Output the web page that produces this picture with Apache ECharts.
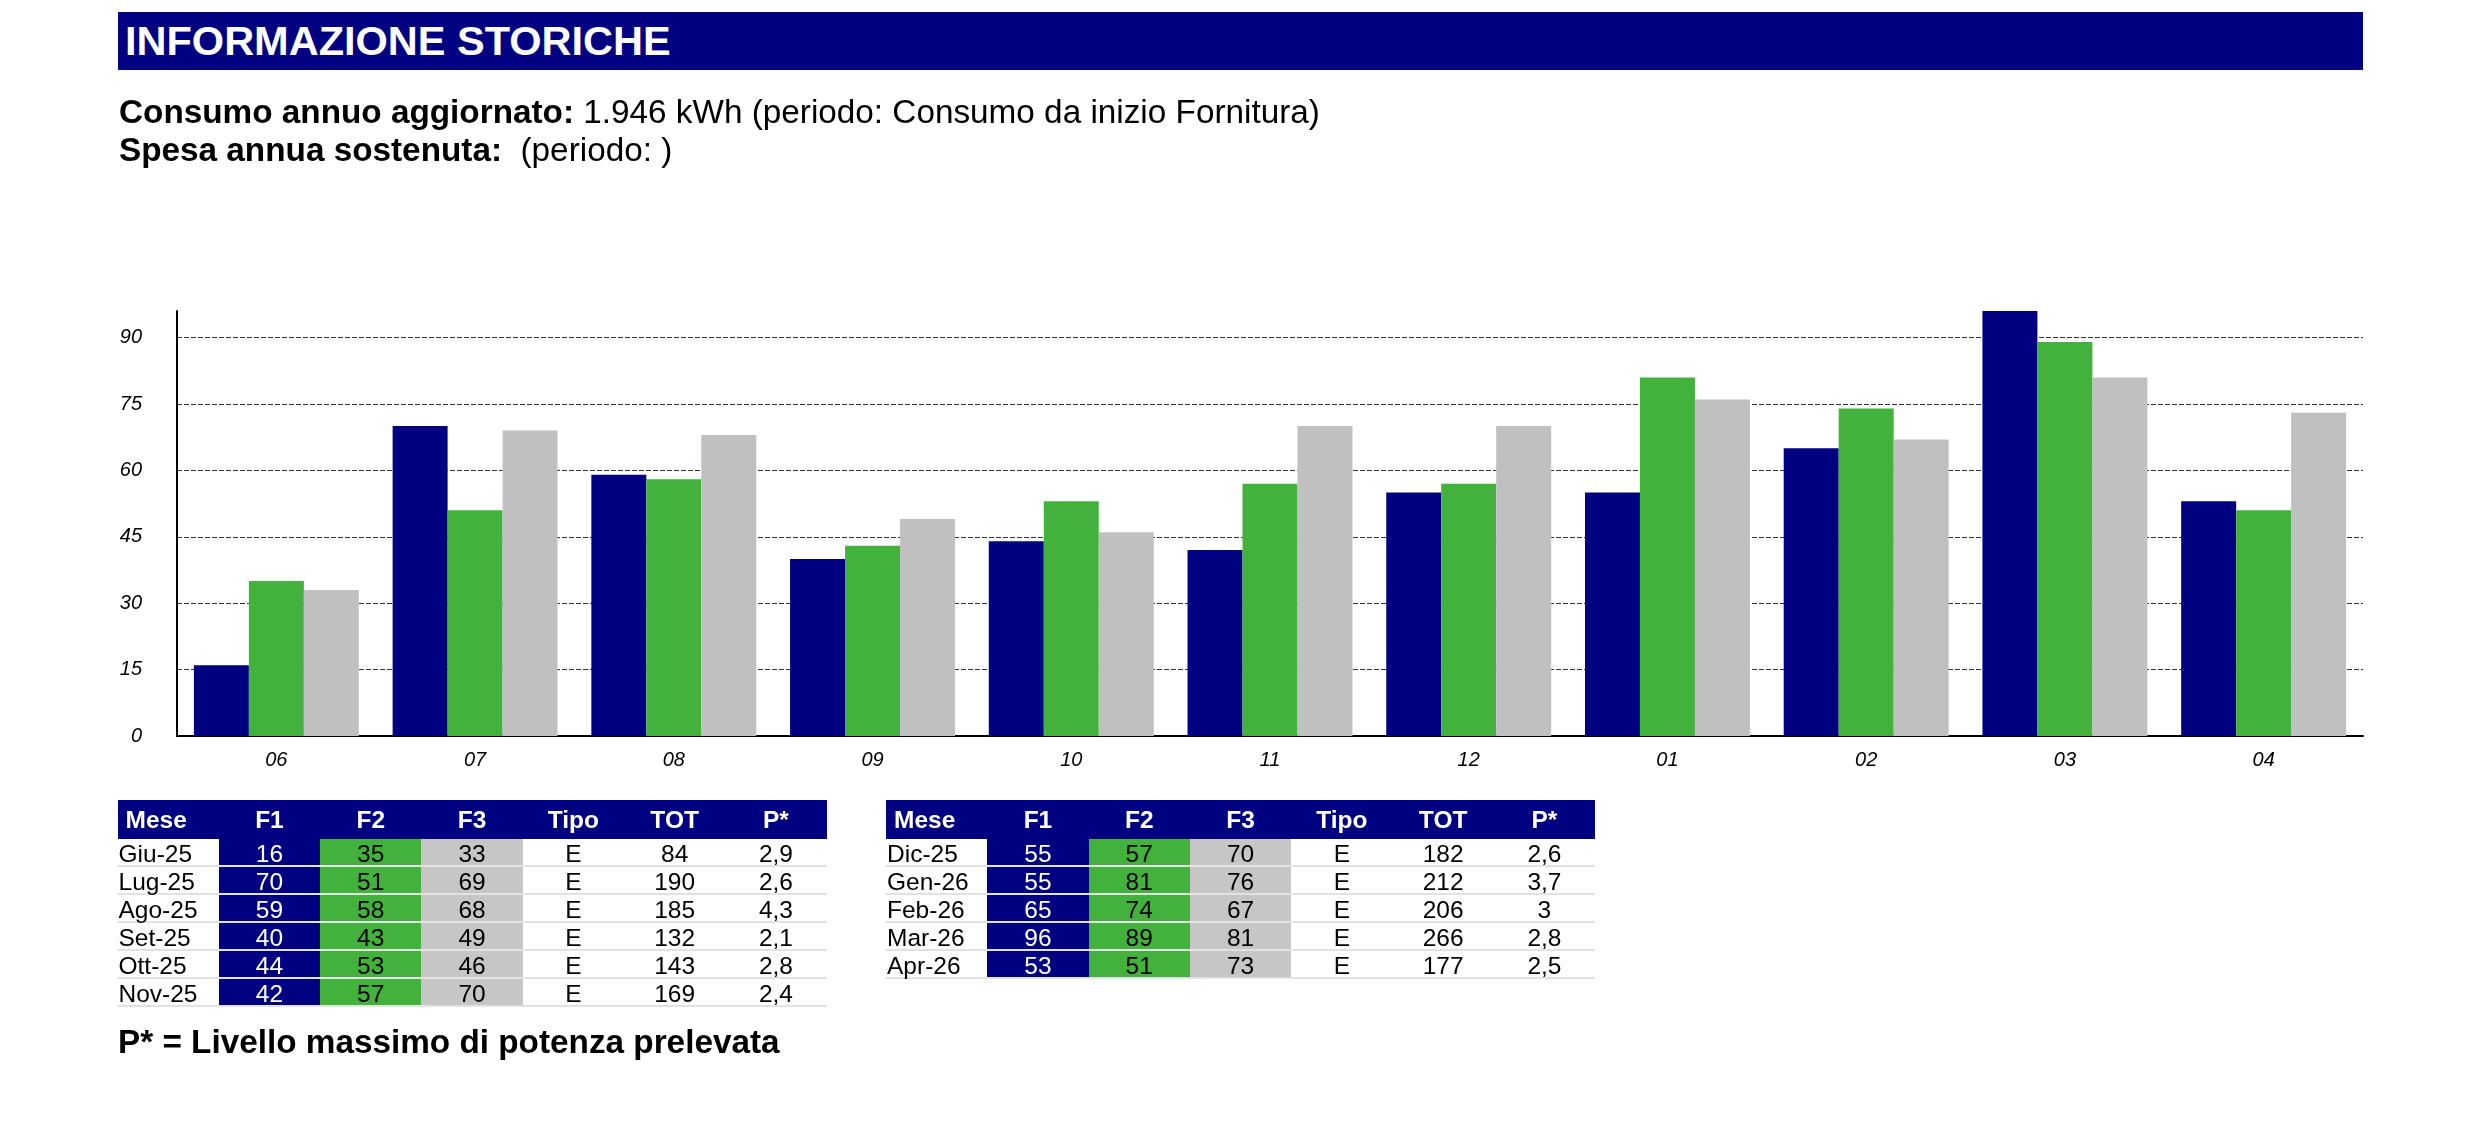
<!DOCTYPE html>
<html>
<head>
<meta charset="utf-8">
<script src="https://cdn.jsdelivr.net/npm/echarts@6/dist/echarts.min.js"></script>
<style>
  html, body { margin: 0; padding: 0; background: #fff; }
  body { width: 2481px; height: 1130px; position: relative; overflow: hidden;
         font-family: "Liberation Sans", Arial, sans-serif; color: #000; }
  #chart { position: absolute; left: 0; top: 0; width: 2481px; height: 1130px; }
  .title { position: absolute; left: 118px; top: 12px; width: 2245px; height: 58px;
           background: #000080; color: #fff; font-weight: bold; font-size: 41.5px;
           line-height: 58px; padding-left: 7px; box-sizing: border-box; }
  .info { position: absolute; left: 119px; top: 93px; font-size: 33.3px; line-height: 38px;
          white-space: pre; }
  .info b { font-weight: bold; }
  .note { position: absolute; left: 118px; top: 1022px; font-size: 33.3px; font-weight: bold;
          line-height: 40px; white-space: pre; }
  .tbl { position: absolute; top: 800px; font-size: 24.5px; }
  .tbl .row { display: flex; height: 26px; line-height: 29px; border-bottom: 2px solid #e2e2e2; }
  .tbl .head { height: 39px; line-height: 39px; background: #000080; color: #fff;
               font-weight: bold; border-bottom: none; }
  .tbl .c { width: 101.3px; text-align: center; flex: none; }
  .tbl .c.m { text-align: left; padding-left: 1px; box-sizing: border-box; }
  .tbl .head .c.m { padding-left: 8px; }
  .tbl .f1 { background: #000080; color: #fff; }
  .tbl .f2 { background: #43b23d; color: #000; }
  .tbl .f3 { background: #c6c6c6; color: #000; }
</style>
</head>
<body>
<div id="chart"></div>
<div class="title">INFORMAZIONE STORICHE</div>
<div class="info"><b>Consumo annuo aggiornato:</b> 1.946 kWh (periodo: Consumo da inizio Fornitura)
<b>Spesa annua sostenuta:</b>  (periodo: )</div>
<div id="t1" class="tbl" style="left:117.5px"></div>
<div id="t2" class="tbl" style="left:886px"></div>
<div class="note">P* = Livello massimo di potenza prelevata</div>
<script>
const months = ['06', '07', '08', '09', '10', '11', '12', '01', '02', '03', '04'];
const mese = ['Giu-25', 'Lug-25', 'Ago-25', 'Set-25', 'Ott-25', 'Nov-25',
              'Dic-25', 'Gen-26', 'Feb-26', 'Mar-26', 'Apr-26'];
const f1 = [16, 70, 59, 40, 44, 42, 55, 55, 65, 96, 53];
const f2 = [35, 51, 58, 43, 53, 57, 57, 81, 74, 89, 51];
const f3 = [33, 69, 68, 49, 46, 70, 70, 76, 67, 81, 73];
const tipo = ['E', 'E', 'E', 'E', 'E', 'E', 'E', 'E', 'E', 'E', 'E'];
const tot = [84, 190, 185, 132, 143, 169, 182, 212, 206, 266, 177];
const pmax = ['2,9', '2,6', '4,3', '2,1', '2,8', '2,4', '2,6', '3,7', '3', '2,8', '2,5'];
const headers = ['Mese', 'F1', 'F2', 'F3', 'Tipo', 'TOT', 'P*'];

const colors = { f1: '#000080', f2: '#43b23d', f3: '#c0c0c0' };

function buildTable(el, from, to) {
  let html = '<div class="row head">' +
    headers.map((h, i) => `<div class="c${i === 0 ? ' m' : ''}">${h}</div>`).join('') + '</div>';
  for (let i = from; i < to; i++) {
    html += '<div class="row">' +
      `<div class="c m">${mese[i]}</div>` +
      `<div class="c f1">${f1[i]}</div>` +
      `<div class="c f2">${f2[i]}</div>` +
      `<div class="c f3">${f3[i]}</div>` +
      `<div class="c">${tipo[i]}</div>` +
      `<div class="c">${tot[i]}</div>` +
      `<div class="c">${pmax[i]}</div>` +
      '</div>';
  }
  el.innerHTML = html;
}
buildTable(document.getElementById('t1'), 0, 6);
buildTable(document.getElementById('t2'), 6, 11);

const font = '"Liberation Sans", Arial, sans-serif';
let chart = echarts.init(document.getElementById('chart'), null, { renderer: 'canvas' });

let options = {
  backgroundColor: 'transparent',
  animation: false,
  grid: { left: 177, right: 118, top: 311, bottom: 394 },
  xAxis: {
    type: 'category',
    data: months,
    axisTick: { show: false },
    axisLine: { lineStyle: { color: '#000', width: 2 } },
    axisLabel: { color: '#000', fontSize: 20, fontStyle: 'italic', fontFamily: font, margin: 14 },
  },
  yAxis: {
    type: 'value',
    min: 0,
    max: 'dataMax',
    interval: 15,
    axisLine: { show: true, lineStyle: { color: '#000', width: 2 } },
    axisTick: { show: false },
    axisLabel: { color: '#000', fontSize: 20, fontStyle: 'italic', fontFamily: font,
                 margin: 35, showMaxLabel: false },
    splitLine: { showMaxLine: false, lineStyle: { color: '#333', width: 1, type: [5, 2] } },
  },
  series: [
    { name: 'F1', type: 'bar', data: f1, barGap: '0%', barCategoryGap: '17%',
      itemStyle: { color: colors.f1 } },
    { name: 'F2', type: 'bar', data: f2, itemStyle: { color: colors.f2 } },
    { name: 'F3', type: 'bar', data: f3, itemStyle: { color: colors.f3 } },
  ],
};

chart.setOption(options);
</script>
</body>
</html>
